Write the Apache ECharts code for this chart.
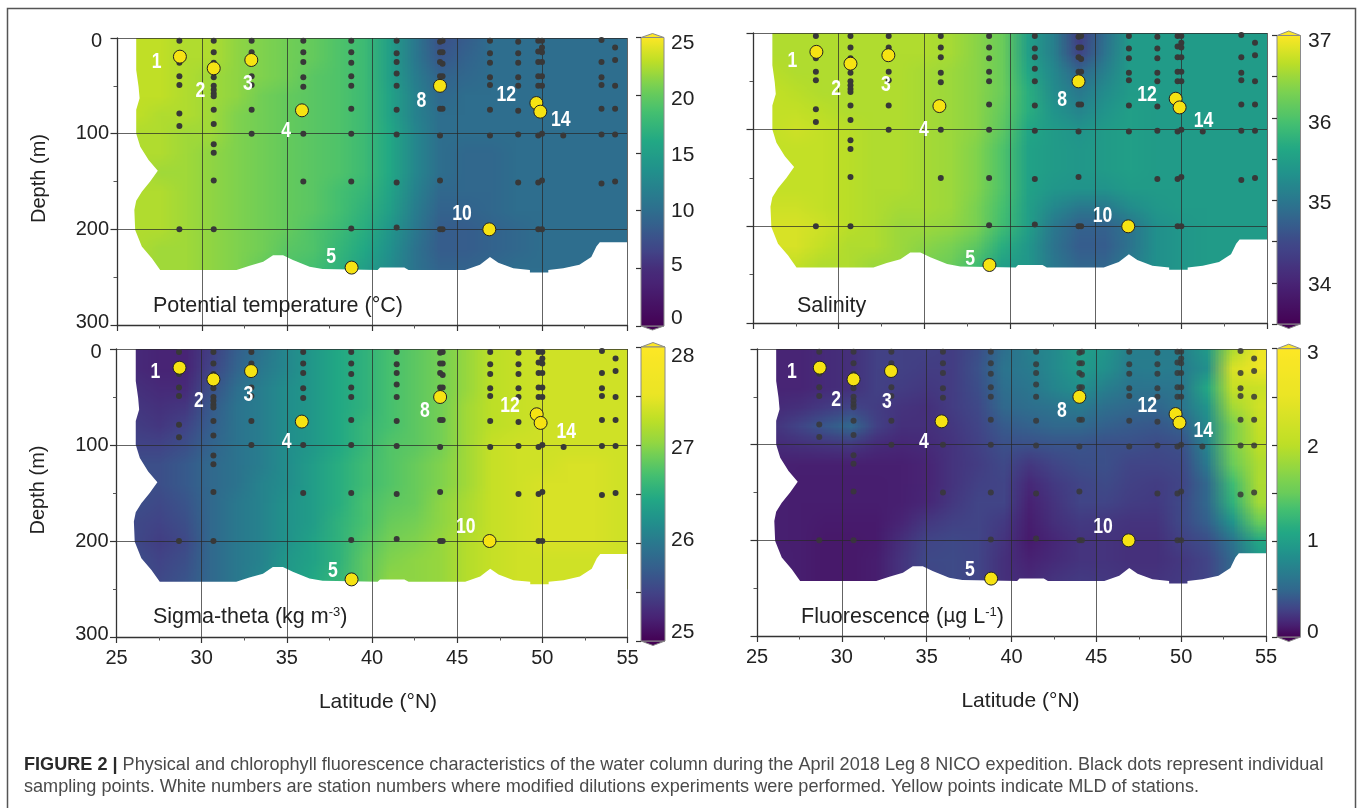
<!DOCTYPE html>
<html><head><meta charset="utf-8">
<style>html,body{margin:0;padding:0;background:#fff}#c{width:1357px;height:808px}</style>
<script src="https://cdn.jsdelivr.net/npm/echarts@6/dist/echarts.min.js"></script>
</head><body><div id="c"></div>
<script>
// ---------- field grid (node positions) ----------
const gridLat=[26,27.5,29,30.5,32,33.5,35,36.5,38,39.5,41,42.5,44,45.5,47,48.5,50,51.5,53,54.5];
const gridDepth=[0,20,40,60,80,100,120,140,160,180,200,220,240];
// ---------- field values, rows = depth, columns = latitude ----------
const temperature=[
[23,23,22.5,22.5,21.5,21,20.5,20,19,18,15,11,7.5,8.5,10,10,10,10,10,10],
[23,23,22.5,22.5,21.5,21,20.5,20,19,18,15,11,8,9,10,10,10,10,10,10],
[23,23,22.5,22,21.5,21,20.5,19.5,19,18,15,11.5,9,9.5,10,10,10,10,10,10],
[23,23,22.5,22,21.5,20.5,20,19.5,19,18,15.5,12,9.5,10,10,10,10,10,10,10],
[23,22.5,22.5,22,21,20.5,20,19.5,19,18,15.5,12,10,10,10,10,10,10,10,10],
[22.5,22.5,22,22,21,20.5,20,19.5,19,18,16,12.5,10,10,10,10,10,10,10,10],
[22.5,22.5,22,21.5,21,20.5,20,19.5,19,18,16,12.5,10,9.5,9.5,10,10,10,10,10],
[22.5,22,22,21.5,21,20.5,20,19.5,19,18,16,12.5,10,9.5,9.5,10,10,10,10,10],
[22.5,22.5,22,21.5,21,20.5,20,19.5,18.5,17.5,15.5,12,9.5,9.5,9.5,10,10,10,10,10],
[22.5,22.5,22,21.5,21,20.5,20,19.5,18.5,17,15,11.5,9,9,9.5,10,10,10,10,10],
[22.5,22.5,22,21.5,21,20.5,20,19,18,16.5,14,11,8.5,8.5,9,9.5,10,10,10,10],
[22.5,22,22,21.5,21,20.5,19.5,19,17.5,16,13.5,10.5,8.5,8.5,9,9.5,10,10,10,10],
[22,22,22,21.5,21,20,19,18.5,17,15,13,10.5,9,9,9.5,10,10,10,10,10]];
const salinity=[
[36.6,36.6,36.6,36.6,36.6,36.6,36.6,36.55,36.4,36.2,35.5,35.1,34.3,34.9,35.45,35.45,35.45,35.45,35.45,35.45],
[36.6,36.6,36.6,36.6,36.6,36.6,36.6,36.55,36.4,36.2,35.5,35.1,34.4,34.95,35.45,35.45,35.45,35.45,35.45,35.45],
[36.65,36.6,36.6,36.6,36.6,36.6,36.55,36.5,36.4,36.2,35.6,35.2,34.8,35.1,35.45,35.45,35.45,35.45,35.45,35.45],
[36.7,36.65,36.6,36.6,36.6,36.6,36.55,36.5,36.4,36.2,35.7,35.25,35,35.25,35.45,35.45,35.45,35.45,35.45,35.45],
[36.7,36.7,36.65,36.6,36.6,36.6,36.55,36.5,36.4,36.15,35.7,35.35,35.15,35.35,35.5,35.45,35.45,35.45,35.45,35.45],
[36.7,36.75,36.7,36.65,36.6,36.6,36.55,36.5,36.4,36.1,35.6,35.45,35.35,35.45,35.5,35.45,35.45,35.45,35.45,35.45],
[36.7,36.7,36.7,36.65,36.6,36.6,36.55,36.5,36.35,36,35.55,35.45,35.4,35.45,35.5,35.45,35.45,35.45,35.45,35.45],
[36.7,36.7,36.7,36.65,36.6,36.6,36.55,36.5,36.35,36,35.55,35.45,35.4,35.45,35.5,35.45,35.45,35.45,35.45,35.45],
[36.7,36.7,36.7,36.65,36.6,36.6,36.55,36.5,36.35,36,35.55,35.4,35.35,35.35,35.45,35.45,35.45,35.45,35.45,35.45],
[36.75,36.75,36.7,36.65,36.6,36.55,36.55,36.5,36.3,35.95,35.5,35.2,35,35,35.25,35.4,35.45,35.45,35.45,35.45],
[36.8,36.8,36.75,36.65,36.6,36.5,36.5,36.45,36.3,35.9,35.5,35,34.75,34.75,34.95,35.3,35.4,35.45,35.45,35.45],
[36.8,36.8,36.7,36.6,36.6,36.5,36.4,36.3,36.1,35.7,35.4,34.95,34.7,34.7,34.95,35.3,35.4,35.45,35.45,35.45],
[36.7,36.7,36.6,36.6,36.5,36.5,36.3,36.2,35.9,35.5,35.4,35,34.8,34.8,35.05,35.3,35.4,35.45,35.45,35.45]];
const sigmaTheta=[
[25.3,25.25,25.25,25.45,25.75,25.95,26.15,26.3,26.45,26.55,26.7,26.8,26.9,27.05,27.25,27.3,27.35,27.35,27.35,27.35],
[25.3,25.25,25.25,25.5,25.8,26,26.15,26.3,26.45,26.55,26.7,26.8,26.9,27.05,27.25,27.3,27.35,27.35,27.35,27.35],
[25.35,25.3,25.3,25.6,25.9,26.05,26.2,26.3,26.45,26.55,26.7,26.8,26.9,27.05,27.25,27.3,27.35,27.35,27.35,27.35],
[25.4,25.35,25.4,25.7,25.95,26.05,26.2,26.3,26.45,26.55,26.7,26.8,26.9,27.1,27.25,27.3,27.35,27.35,27.35,27.35],
[25.45,25.4,25.5,25.75,25.95,26.05,26.2,26.3,26.45,26.6,26.7,26.8,26.9,27.1,27.25,27.3,27.35,27.35,27.35,27.35],
[25.5,25.5,25.6,25.8,25.95,26.05,26.2,26.3,26.45,26.6,26.75,26.8,26.9,27.1,27.3,27.35,27.35,27.35,27.35,27.35],
[25.6,25.6,25.7,25.85,25.95,26.05,26.2,26.35,26.5,26.65,26.75,26.85,26.95,27.1,27.3,27.35,27.35,27.4,27.4,27.35],
[25.6,25.6,25.7,25.85,25.95,26.1,26.2,26.35,26.5,26.65,26.75,26.85,26.95,27.1,27.3,27.35,27.4,27.4,27.4,27.35],
[25.6,25.55,25.65,25.85,26,26.1,26.25,26.35,26.5,26.7,26.8,26.85,27,27.15,27.3,27.35,27.4,27.4,27.4,27.35],
[25.55,25.5,25.6,25.85,26,26.1,26.25,26.35,26.55,26.7,26.85,26.9,27,27.15,27.3,27.35,27.4,27.4,27.4,27.35],
[25.55,25.45,25.55,25.85,26,26.1,26.25,26.4,26.55,26.75,26.9,26.95,27.05,27.2,27.3,27.35,27.4,27.4,27.4,27.35],
[25.6,25.5,25.6,25.85,26,26.1,26.3,26.4,26.55,26.8,26.95,27,27.05,27.2,27.3,27.35,27.35,27.35,27.35,27.35],
[25.6,25.55,25.65,25.85,26,26.15,26.3,26.45,26.6,26.8,27,27,27.05,27.2,27.3,27.35,27.35,27.35,27.35,27.35]];
const fluorescence=[
[.15,.15,.18,.2,.28,.28,.28,.26,.35,.55,.7,.8,1,.9,.7,.68,.7,.95,1.9,2.6],
[.15,.15,.18,.2,.28,.28,.26,.26,.37,.6,.66,.8,.95,.85,.66,.68,.66,.85,2.3,2.6],
[.15,.15,.18,.2,.28,.26,.24,.26,.35,.55,.62,.75,.85,.7,.6,.6,.62,1.1,2.1,2.15],
[.18,.2,.25,.3,.26,.22,.2,.26,.32,.5,.55,.6,.65,.55,.5,.48,.6,.9,1.85,2.2],
[.22,.3,.4,.5,.28,.2,.2,.24,.3,.42,.46,.5,.5,.45,.42,.4,.45,.8,1.6,2.1],
[.18,.2,.22,.24,.18,.16,.18,.22,.28,.36,.36,.38,.38,.36,.36,.33,.36,.75,1.6,2],
[.14,.13,.13,.13,.13,.13,.15,.22,.26,.32,.24,.3,.35,.36,.3,.3,.32,.65,1.5,1.9],
[.13,.12,.12,.12,.12,.13,.15,.22,.28,.3,.17,.25,.3,.33,.28,.26,.3,.5,1.3,1.9],
[.13,.12,.12,.12,.12,.13,.16,.24,.3,.3,.14,.22,.3,.3,.26,.25,.32,.5,1.2,1.85],
[.13,.12,.11,.11,.11,.15,.24,.28,.3,.25,.12,.2,.25,.24,.22,.22,.32,.45,.9,1.5],
[.13,.12,.1,.1,.11,.2,.3,.32,.3,.22,.11,.16,.22,.22,.2,.2,.28,.35,.6,1.1],
[.14,.12,.1,.1,.12,.22,.32,.33,.3,.2,.14,.18,.22,.22,.2,.2,.24,.3,.5,.9],
[.14,.12,.1,.1,.12,.22,.3,.33,.3,.2,.17,.22,.25,.24,.22,.22,.25,.3,.5,.9]];
// ---------- outline of the sampled section (white outside) ----------
const outlineLat=[26.13,26.13,26.27,26.33,26.13,26.13,26.37,26.86,27.4,26.95,26.46,26.13,26.02,26.07,26.46,27.05,27.54,32.03,32.8,33.6,34.18,34.77,35.35,36.33,37.1,40.33,40.47,41.9,42.15,45.47,46.35,46.94,47.43,48.31,49.29,49.29,50.37,50.37,51.25,52.2,52.9,53.2,53.4,55];
const outlineDepth=[0,33.4,50.9,63,75,99.7,113.6,127.5,138.7,150,160.6,170,179.8,200.7,218,230.3,242.5,242.5,238,234,227,227,232,239,241.5,242.5,240,240,242.5,242.5,237,229,234.8,240.8,242.5,245,245,242.5,240.8,237,229,218,213.6,213.6];
// ---------- sampling points ----------
const sampleLat=[28.67,30.69,32.92,35.96,38.78,41.45,44,44.15,46.94,48.6,49.78,50,51.25,53.5,54.3];
const sampleDepths=[
[3,26,40,49,79,92,200],
[3,15,26,41,50,54,58,61,75,90,111,120,149,200],
[3,15,40,49,75,100],
[3,15,25,41,51,100,150],
[3,15,26,40,50,74,100,150,199],
[3,16,25,37,50,75,101,151,198],
[4,15,25,40,74,102,149,200],
[3,15,27,40,74,200],
[3,16,26,41,49,75,102],
[4,16,26,41,50,76,101,151],
[3,14,25,40,50,102,151,200],
[3,10,15,25,40,50,100,149,200],
[102],
[2,25,41,49,74,101,152],
[10,23,50,74,101,150]];
// ---------- stations: mixed-layer depth ----------
const stationNames=['1','2','3','4','5','8','10','12','14'];
const mldLat=[28.7,30.69,32.9,35.88,38.8,44,46.9,49.67,49.9];
const mldDepth=[19.5,31.7,23,75.6,240,50,200,68,77];
// station number anchors, one pair per panel
const numLat=[[27.33,29.9,32.7,34.95,37.6,42.9,45.3,47.9,51.1],[27.3,29.85,32.75,34.98,37.67,43.04,45.4,48,51.3],[27.28,29.84,32.74,34.99,37.7,43.1,45.5,48.1,51.4],[27.06,29.66,32.66,34.84,37.55,42.97,45.4,48,51.3]];
const numDepth=[[24.8,55,48,97,229,66,184,60,86],[28.6,58,54,100,234,69,189,64,91],[23.6,54,48,97,231,65,185,59,86],[23.7,53,55.7,96.9,231,65,186,59,86]];
// ---------- axis ticks and titles ----------
const latTicks=[25,30,35,40,45,50,55];
const depthTicks=[0,100,200,300];
const panelTitles=['Potential temperature (°C)','Salinity','{a|Sigma-theta (kg m}{s|-3}{a|)}','{a|Fluorescence (}{m|µ}{a|g L}{s|-1}{a|)}'];
const barLabels=[[25,20,15,10,5,0],[37,36,35,34],[28,27,26,25],[3,2,1,0]];
// colour scale of each panel: [value, position on the colormap]
const scaleT=[[0,0],[5,.13],[10,.36],[15,.56],[20,.76],[25,1]];
const scaleS=[[33.5,0],[34,.1],[34.5,.22],[35,.4],[35.5,.56],[36,.72],[36.5,.85],[37,1]];
const scaleD=[[25,0],[25.5,.2],[26,.4],[26.5,.62],[27,.83],[27.5,.97],[28,1]];
const scaleF=[[0,0],[.5,.34],[1,.56],[1.5,.77],[2,.9],[2.5,.97],[3,1]];
const viridis=['#440154','#482475','#414487','#355f8d','#2a788e','#21918c','#22a884','#44bf70','#7ad151','#bddf26','#fde725'];

// ---------- layout ----------
const plots=[
 {l:117,r:627,t:38,b:325,field:temperature,scale:scaleT,iv:5,bar:{l:641,r:664,t:37.5,b:326,cap:4},barX:671,barY:[43,99,155,211,265,318],title:[153,306],y:true,x:false,latPad:0},
 {l:753,r:1267,t:33,b:323,field:salinity,scale:scaleS,iv:.5,bar:{l:1277,r:1300.5,t:35.5,b:324,cap:4.5},barX:1308,barY:[41,123,203,285],title:[797,306],y:false,x:false,latPad:0},
 {l:116.5,r:627.5,t:349,b:637,field:sigmaTheta,scale:scaleD,iv:.5,bar:{l:641,r:665,t:347,b:641,cap:4.5},barX:671,barY:[356,448,540,632],title:[153,617],y:true,x:true,latPad:12},
 {l:757,r:1266,t:349,b:636,field:fluorescence,scale:scaleF,iv:.5,bar:{l:1277,r:1300.5,t:348.7,b:637,cap:4.5},barX:1307,barY:[353,447,541,632],title:[801,617],y:false,x:true,latPad:18}];
const FONT='"Liberation Sans",Arial,sans-serif';
const TXT='#222';

function hexRGB(h){return [parseInt(h.slice(1,3),16),parseInt(h.slice(3,5),16),parseInt(h.slice(5,7),16)];}
function cmap(f){f=Math.max(0,Math.min(1,f))*(viridis.length-1);const i=Math.min(Math.floor(f),viridis.length-2),t=f-i,a=hexRGB(viridis[i]),b=hexRGB(viridis[i+1]);return a.map((v,k)=>Math.round(v+(b[k]-v)*t));}
function toFrac(s,v){if(v<=s[0][0])return s[0][1];for(let i=1;i<s.length;i++){if(v<=s[i][0]){const t=(v-s[i-1][0])/(s[i][0]-s[i-1][0]);return s[i-1][1]+t*(s[i][1]-s[i-1][1]);}}return 1;}
function rgbStr(c){return 'rgb('+c.join(',')+')';}
function fieldCanvas(m,s){const cv=document.createElement('canvas');cv.width=gridLat.length;cv.height=gridDepth.length;const g=cv.getContext('2d'),d=g.createImageData(cv.width,cv.height);
 m.forEach((row,j)=>row.forEach((v,i)=>{const c=cmap(toFrac(s,v)),o=(j*cv.width+i)*4;d.data[o]=c[0];d.data[o+1]=c[1];d.data[o+2]=c[2];d.data[o+3]=255;}));g.putImageData(d,0,0);return cv;}

const grid=[],xAxis=[],yAxis=[],series=[],graphic=[];
graphic.push({type:'polyline',shape:{points:[[7.5,808],[7.5,8.5],[1355.5,8.5],[1355.5,808]]},style:{stroke:'#555',lineWidth:1.5,fill:null},z:1});

plots.forEach((p,i)=>{
 const ai=grid.length;
 grid.push({left:p.l,top:p.t,width:p.r-p.l,height:p.b-p.t});
 xAxis.push({type:'value',gridIndex:ai,min:latTicks[0],max:latTicks[latTicks.length-1],interval:5,z:3,
  name:p.x?'Latitude (°N)':'',nameLocation:'middle',nameGap:55,nameTextStyle:{fontFamily:FONT,fontSize:21,color:TXT,padding:[0,0,0,p.latPad]},
  axisLine:{onZero:false,lineStyle:{color:'#333',width:1.3}},axisTick:{show:true,length:6,lineStyle:{color:'#333',width:1.2}},
  minorTick:{show:true,splitNumber:2,length:3.5,lineStyle:{color:'#555',width:1}},
  axisLabel:{show:p.x,fontFamily:FONT,fontSize:20,color:TXT,margin:11},
  splitLine:{show:true,lineStyle:{color:'rgba(40,40,40,0.72)',width:1}},minorSplitLine:{show:false}});
 yAxis.push({type:'value',gridIndex:ai,inverse:true,min:depthTicks[0],max:depthTicks[depthTicks.length-1],interval:100,z:3,
  name:p.y?'Depth (m)':'',nameLocation:'middle',nameGap:68,nameRotate:90,nameTextStyle:{fontFamily:FONT,fontSize:20,color:TXT,padding:[0,0,0,6]},
  axisLine:{onZero:false,lineStyle:{color:'#333',width:1.3}},axisTick:{show:true,length:6.5,lineStyle:{color:'#333',width:1.2}},
  minorTick:{show:true,splitNumber:2,length:3.5,lineStyle:{color:'#555',width:1}},
  axisLabel:{show:p.y,fontFamily:FONT,fontSize:20,color:TXT,margin:8,
   formatter:v=>v===0?'{z|0}':(v===300?'{t|300}':String(v)),
   rich:{z:{fontFamily:FONT,fontSize:20,color:TXT,padding:[6,7,0,0]},t:{fontFamily:FONT,fontSize:20,color:TXT,padding:[0,0,5,0]}}},
  splitLine:{show:true,lineStyle:{color:'rgba(40,40,40,0.72)',width:1}},minorSplitLine:{show:false}});
 // field
 const cv=fieldCanvas(p.field,p.scale);
 const stepLat=gridLat[1]-gridLat[0],stepD=gridDepth[1]-gridDepth[0];
 const nodes=[];p.field.forEach((row,j)=>row.forEach((v,k)=>nodes.push([gridLat[k],gridDepth[j],v])));
 series.push({type:'custom',xAxisIndex:ai,yAxisIndex:ai,coordinateSystem:'cartesian2d',z:1,clip:true,silent:true,data:nodes,encode:{x:0,y:1},
  renderItem:(params,api)=>{ if(params.dataIndex!==0) return null;
   const a=api.coord([gridLat[0]-stepLat/2,gridDepth[0]-stepD/2]),b=api.coord([gridLat[gridLat.length-1]+stepLat/2,gridDepth[gridDepth.length-1]+stepD/2]);
   return {type:'image',style:{image:cv,x:a[0],y:a[1],width:b[0]-a[0],height:b[1]-a[1]}};}});
 // white area outside the section
 const outline=[[latTicks[0],depthTicks[0]]].concat(outlineLat.map((la,k)=>[la,outlineDepth[k]]),[[latTicks[latTicks.length-1],depthTicks[depthTicks.length-1]],[latTicks[0],depthTicks[depthTicks.length-1]]]);
 series.push({type:'custom',xAxisIndex:ai,yAxisIndex:ai,coordinateSystem:'cartesian2d',z:2,silent:true,data:outline,encode:{x:0,y:1},
  renderItem:(params,api)=>{ if(params.dataIndex!==0) return null;
   return {type:'polygon',shape:{points:outline.map(q=>api.coord(q))},style:{fill:'#fff',stroke:null}};}});
 // sampling points
 const samples=[];sampleLat.forEach((la,k)=>sampleDepths[k].forEach(d=>samples.push([la,d])));
 series.push({type:'scatter',xAxisIndex:ai,yAxisIndex:ai,z:4,silent:true,symbolSize:6,data:samples,itemStyle:{color:'#383838',opacity:i===3?0.85:1}});
 // MLD
 series.push({type:'scatter',xAxisIndex:ai,yAxisIndex:ai,z:5,silent:true,symbolSize:13,data:mldLat.map((la,k)=>[la,mldDepth[k]]),itemStyle:{color:'#f6e312',borderColor:'#222',borderWidth:1,opacity:1}});
 // station numbers (bold condensed white)
 series.push({type:'custom',xAxisIndex:ai,yAxisIndex:ai,coordinateSystem:'cartesian2d',z:6,clip:false,silent:true,encode:{x:0,y:1},
  data:numLat[i].map((la,k)=>[la,numDepth[i][k],k]),
  renderItem:(params,api)=>{const c=api.coord([api.value(0),api.value(1)]);
   return {type:'text',x:c[0],y:c[1],scaleX:0.8,style:{text:stationNames[api.value(2)],fontFamily:FONT,fontWeight:'bold',fontSize:22,fill:'#fff',align:'center',verticalAlign:'middle'}};}});
 // colour bar
 const B=p.bar,sc=p.scale,vmin=sc[0][0],vmax=sc[sc.length-1][0];
 const bi=grid.length;
 grid.push({left:B.l,top:B.t,width:B.r-B.l,height:B.b-B.t});
 xAxis.push({type:'value',gridIndex:bi,min:0,max:1,show:false});
 yAxis.push({type:'value',gridIndex:bi,position:'right',min:vmin,max:vmax,interval:p.iv,z:4,
  axisLine:{show:false},axisTick:{show:true,inside:true,length:5,lineStyle:{color:'#333',width:1.2}},axisLabel:{show:false},splitLine:{show:false}});
 const stops=[];for(let k=0;k<=50;k++){const v=vmax-(vmax-vmin)*k/50;stops.push({offset:k/50,color:rgbStr(cmap(toFrac(sc,v)))});}
 series.push({type:'custom',xAxisIndex:bi,yAxisIndex:bi,coordinateSystem:'cartesian2d',z:2,clip:false,silent:true,data:[[0,vmax],[1,vmin]],encode:{x:0,y:1},
  renderItem:(params,api)=>{ if(params.dataIndex!==0) return null;
   const a=api.coord([0,vmax]),b=api.coord([1,vmin]),mx=(a[0]+b[0])/2;
   return {type:'group',children:[
    {type:'polygon',shape:{points:[[a[0],a[1]],[mx,a[1]-B.cap],[b[0],a[1]]]},style:{fill:stops[0].color,stroke:'#8a8a8a',lineWidth:1}},
    {type:'polygon',shape:{points:[[a[0],b[1]],[mx,b[1]+B.cap],[b[0],b[1]]]},style:{fill:stops[50].color,stroke:'#8a8a8a',lineWidth:1}},
    {type:'rect',shape:{x:a[0],y:a[1],width:b[0]-a[0],height:b[1]-a[1]},style:{fill:new echarts.graphic.LinearGradient(0,0,0,1,stops),stroke:'#8a8a8a',lineWidth:1}}
   ]};}});
 // colour bar labels and panel title
 barLabels[i].forEach((v,k)=>graphic.push({type:'text',x:p.barX,y:p.barY[k],z:10,style:{text:String(v),fontFamily:FONT,fontSize:21,fill:TXT,verticalAlign:'middle',align:'left'}}));
 graphic.push({type:'text',x:p.title[0],y:p.title[1],z:10,style:{text:panelTitles[i],fontFamily:FONT,fontSize:21.5,fill:TXT,verticalAlign:'middle',align:'left',
  rich:{a:{fontFamily:FONT,fontSize:21.5,fill:TXT},s:{fontFamily:FONT,fontSize:13,fill:TXT,verticalAlign:'top',padding:[0,0,8,0]},m:{fontFamily:'"DejaVu Sans",'+FONT,fontSize:19,fill:TXT}}}});
});
// caption
const captionLines=['{b|FIGURE 2 |} Physical and chlorophyll fluorescence characteristics of the water column during the April 2018 Leg 8 NICO expedition. Black dots represent individual','sampling points. White numbers are station numbers where modified dilutions experiments were performed. Yellow points indicate MLD of stations.'];
captionLines.forEach((t,k)=>graphic.push({type:'text',x:24,y:765+k*22,z:10,style:{text:t,fontFamily:FONT,fontSize:18.1,fill:'#4a4a4a',verticalAlign:'middle',align:'left',rich:{b:{fontFamily:FONT,fontSize:18.1,fontWeight:'bold',fill:'#2a2a2a'}}}}));

const chart=echarts.init(document.getElementById('c'),null,{renderer:'canvas'});
chart.setOption({animation:false,backgroundColor:'#fff',tooltip:{show:false},grid,xAxis,yAxis,series,graphic});
</script></body></html>
